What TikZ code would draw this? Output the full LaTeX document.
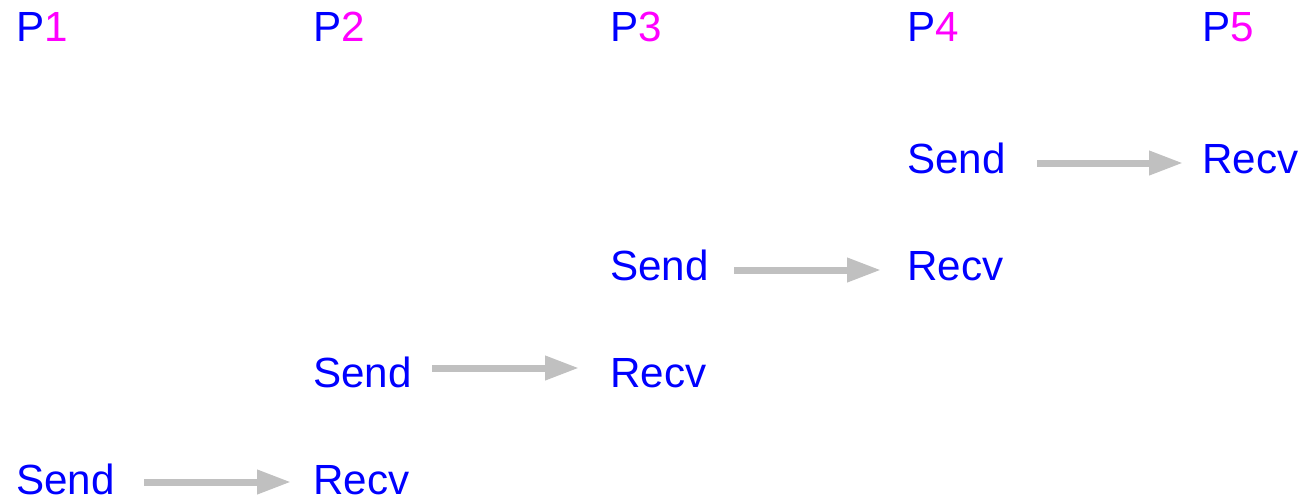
\documentclass[tikz,border=0pt]{standalone}
\usepackage{fontspec}
\setmainfont{Liberation Sans}
\usetikzlibrary{positioning, arrows.meta}
\definecolor{procblue}{HTML}{0000FF}
\definecolor{procpink}{HTML}{FF00FF}
\definecolor{msggray}{HTML}{C0C0C0}
\newcommand{\proc}[1]{P\textcolor{procpink}{#1}}
\begin{document}
\begin{tikzpicture}[
        every node/.style={anchor=base west, inner sep=0pt, text=procblue,
            font=\fontsize{24}{28}\selectfont},
        msg/.style={draw=msggray, line width=0.14cm,
            -{Triangle[length=0.68cm, width=0.46cm]}}]

        \useasboundingbox (0,0) rectangle (26.06,-10.04);

        % process labels
        \node (p1) at (0.32,-0.83) {\proc{1}};
        \node (p2) at (6.26,-0.83) {\proc{2}};
        \node (p3) at (12.20,-0.83) {\proc{3}};
        \node (p4) at (18.14,-0.83) {\proc{4}};
        \node (p5) at (24.04,-0.83) {\proc{5}};

        % messages
        \node (send1) at (0.32,-9.88) {Send};
        \node (recv1) at (6.26,-9.88) {Recv};
        \node (send2) at (6.26,-7.74) {Send};
        \node (recv2) at (12.20,-7.74) {Recv};
        \node (send3) at (12.20,-5.60) {Send};
        \node (recv3) at (18.14,-5.60) {Recv};
        \node (send4) at (18.14,-3.46) {Send};
        \node (recv4) at (24.04,-3.46) {Recv};

        \draw[msg, shorten <=0.58cm, shorten >=0.44cm]
            ([yshift=0.24cm]send1.base east) -- ([yshift=0.24cm]recv1.base west);
        \draw[msg, shorten <=0.40cm, shorten >=0.62cm]
            ([yshift=0.38cm]send2.base east) -- ([yshift=0.38cm]recv2.base west);
        \draw[msg, shorten <=0.50cm, shorten >=0.52cm]
            ([yshift=0.20cm]send3.base east) -- ([yshift=0.20cm]recv3.base west);
        \draw[msg, shorten <=0.62cm, shorten >=0.38cm]
            ([yshift=0.20cm]send4.base east) -- ([yshift=0.20cm]recv4.base west);

    \end{tikzpicture}
\end{document}
